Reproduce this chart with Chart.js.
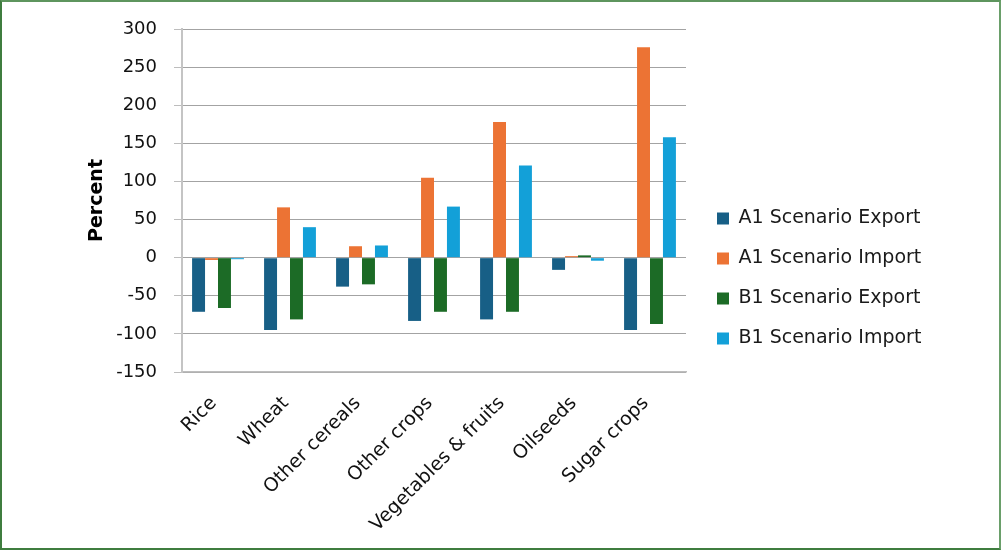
<!DOCTYPE html>
<html>
<head>
<meta charset="utf-8">
<script src="https://cdn.jsdelivr.net/npm/chart.js@4/dist/chart.umd.min.js"></script>
<style>
  html, body { margin: 0; padding: 0; background: #ffffff; }
  #wrap { position: relative; width: 1001px; height: 550px; }
  #chart { position: absolute; left: 0; top: 0; }
  #frame {
    position: absolute; left: 0; top: 0; width: 1001px; height: 550px;
    box-sizing: border-box; border: 2px solid #3f7d3f; border-right-color: #6a9f6a; border-top-color: #5e955e;
    pointer-events: none;
  }
</style>
</head>
<body>
<div id="wrap">
  <canvas id="chart" width="1001" height="550"></canvas>
  <div id="frame"></div>
</div>
<script>
// Crop groups along the x axis
const categories = ['Rice', 'Wheat', 'Other cereals', 'Other crops', 'Vegetables & fruits', 'Oilseeds', 'Sugar crops'];

// Percent change by scenario
const a1Export = [-71, -95, -38, -83, -81, -16, -95];
const a1Import = [-3, 66, 15, 105, 178, 2, 276];
const b1Export = [-66, -81, -35, -71, -71, 3, -87];
const b1Import = [-2, 40, 16, 67, 121, -4, 158];

// Value axis range and tick spacing
const yMin = -150;
const yMax = 300;
const yStep = 50;

const FONT = '"DejaVu Sans", sans-serif';

// Fixed-width legend column on the right, nudged into place after layout
const legendPlace = {
  id: 'legendPlace',
  beforeLayout(chart) {
    const lg = chart.legend;
    if (lg && !lg._fixedFit) {
      const fit = lg.fit.bind(lg);
      lg.fit = function () { fit(); this.width = 315; };
      lg._fixedFit = true;
    }
  },
  afterLayout(chart) {
    const lg = chart.legend;
    if (!lg) return;
    lg.left += 10; lg.right += 10;
    lg.top -= 11; lg.bottom -= 11;
  }
};

new Chart(document.getElementById('chart'), {
  type: 'bar',
  data: {
    labels: categories,
    datasets: [
      { label: 'A1 Scenario Export', data: a1Export, backgroundColor: '#175f86' },
      { label: 'A1 Scenario Import', data: a1Import, backgroundColor: '#ec7334' },
      { label: 'B1 Scenario Export', data: b1Export, backgroundColor: '#1c6b26' },
      { label: 'B1 Scenario Import', data: b1Import, backgroundColor: '#13a0d8' }
    ]
  },
  options: {
    responsive: false,
    animation: false,
    devicePixelRatio: 1,
    layout: { padding: { left: 82, top: 29, right: 0, bottom: 0 } },
    datasets: { bar: { categoryPercentage: 0.72, barPercentage: 1.0 } },
    plugins: {
      tooltip: { enabled: false },
      legend: {
        position: 'right',
        align: 'center',
        labels: {
          boxWidth: 12, boxHeight: 12, padding: 21,
          color: '#1a1a1a',
          font: { family: FONT, size: 19 }
        }
      }
    },
    scales: {
      x: {
        grid: { display: false, drawTicks: false },
        border: { display: true, color: '#bdbdbd', width: 1.5 },
        ticks: {
          color: '#111111',
          font: { family: FONT, size: 19 },
          minRotation: 45, maxRotation: 45,
          padding: 16,
          autoSkip: false,
          // trailing space tucks the slanted label's corner under its tick
          callback: (value, index) => categories[index] + ' '
        },
        afterFit(scale) { scale.height = 178; }
      },
      y: {
        min: yMin, max: yMax,
        ticks: {
          stepSize: yStep,
          color: '#111111',
          font: { family: FONT, size: 18 },
          padding: 17
        },
        grid: { color: '#a3a3a3', lineWidth: 1, tickLength: 8, tickColor: '#bdbdbd' },
        border: { display: true, color: '#c4c4c4', width: 2 },
        title: {
          display: true, text: 'Percent', color: '#000000',
          font: { family: FONT, size: 19, weight: 'bold' },
          padding: { top: 4, bottom: 0 }
        },
        afterFit(scale) { scale.width = 100; }
      }
    }
  },
  plugins: [legendPlace]
});
</script>
</body>
</html>
